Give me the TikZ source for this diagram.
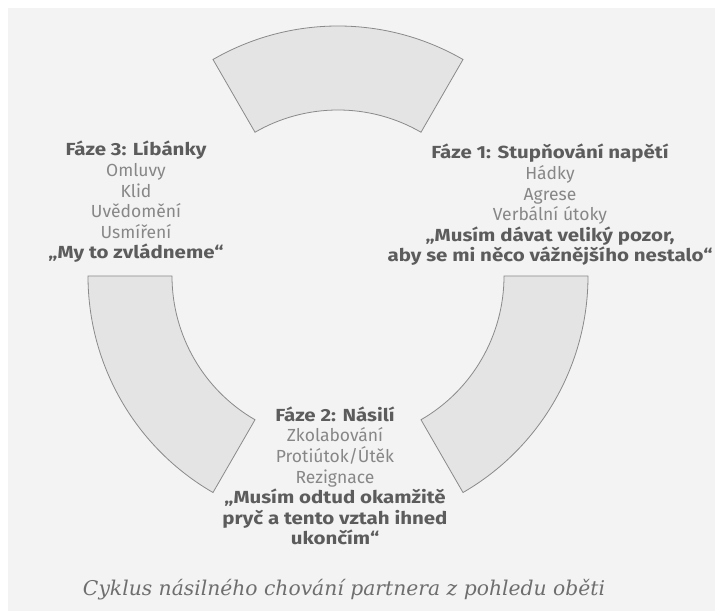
\documentclass[tikz,border=0pt]{standalone}
\usepackage{fontspec}
\setmainfont{Fira Sans}[BoldFeatures={FakeStretch=1.17}]
\newfontfamily\capfont{DejaVu Serif}
\definecolor{segfill}{HTML}{E4E4E4}
\definecolor{segline}{HTML}{8A8A8A}
\definecolor{headc}{HTML}{5C5C5C}
\definecolor{linec}{HTML}{878787}
\definecolor{capc}{HTML}{6E6E6E}
\definecolor{pagebg}{HTML}{F3F3F3}
\begin{document}
\begin{tikzpicture}[x=1pt,y=1pt,
  seg/.style={fill=segfill,draw=segline,line width=0.8pt,line join=miter},
  txt/.style={align=center,text=linec,inner sep=0pt,font=\fontsize{17.5}{20.6}\selectfont}]
\useasboundingbox (0,0) rectangle (715,611);
\fill[white] (0,0) rectangle (715,611);
\fill[pagebg] (8,0) rectangle (715,603);
\coordinate (c) at (338,335);
% three ring segments
\draw[seg] ([shift={(60:250)}]c) arc[start angle=60,end angle=120,radius=250]
  -- ([shift={(120:166)}]c) arc[start angle=120,end angle=60,radius=166] -- cycle;
\draw[seg] ([shift={(180:250)}]c) arc[start angle=180,end angle=240,radius=250]
  -- ([shift={(240:166)}]c) arc[start angle=240,end angle=180,radius=166] -- cycle;
\draw[seg] ([shift={(300:250)}]c) arc[start angle=300,end angle=360,radius=250]
  -- ([shift={(0:166)}]c) arc[start angle=360,end angle=300,radius=166] -- cycle;
% texts
\node[txt] (f3) at (136,409) {{\bfseries\color{headc}Fáze 3: Líbánky}\\
  Omluvy\\ Klid\\ Uvědomění\\ Usmíření\\
  {\bfseries\color{headc}„My to zvládneme“}};
\node[txt] (f1) at (550,406) {{\bfseries\color{headc}Fáze 1: Stupňování napětí}\\
  Hádky\\ Agrese\\ Verbální útoky\\
  {\bfseries\color{headc}„Musím dávat veliký pozor,}\\
  {\bfseries\color{headc}aby se mi něco vážnějšího nestalo“}};
\node[txt] (f2) at (335,135) {{\bfseries\color{headc}Fáze 2: Násilí}\\
  Zkolabování\\ Protiútok/Útěk\\ Rezignace\\
  {\bfseries\color{headc}„Musím odtud okamžitě}\\
  {\bfseries\color{headc}pryč a tento vztah ihned}\\
  {\bfseries\color{headc}ukončím“}};
\node[inner sep=0pt,text=capc,font=\capfont\itshape\fontsize{20.3}{24}\selectfont] (cap) at (344,21)
  {Cyklus násilného chování partnera z pohledu oběti};
\end{tikzpicture}
\end{document}
